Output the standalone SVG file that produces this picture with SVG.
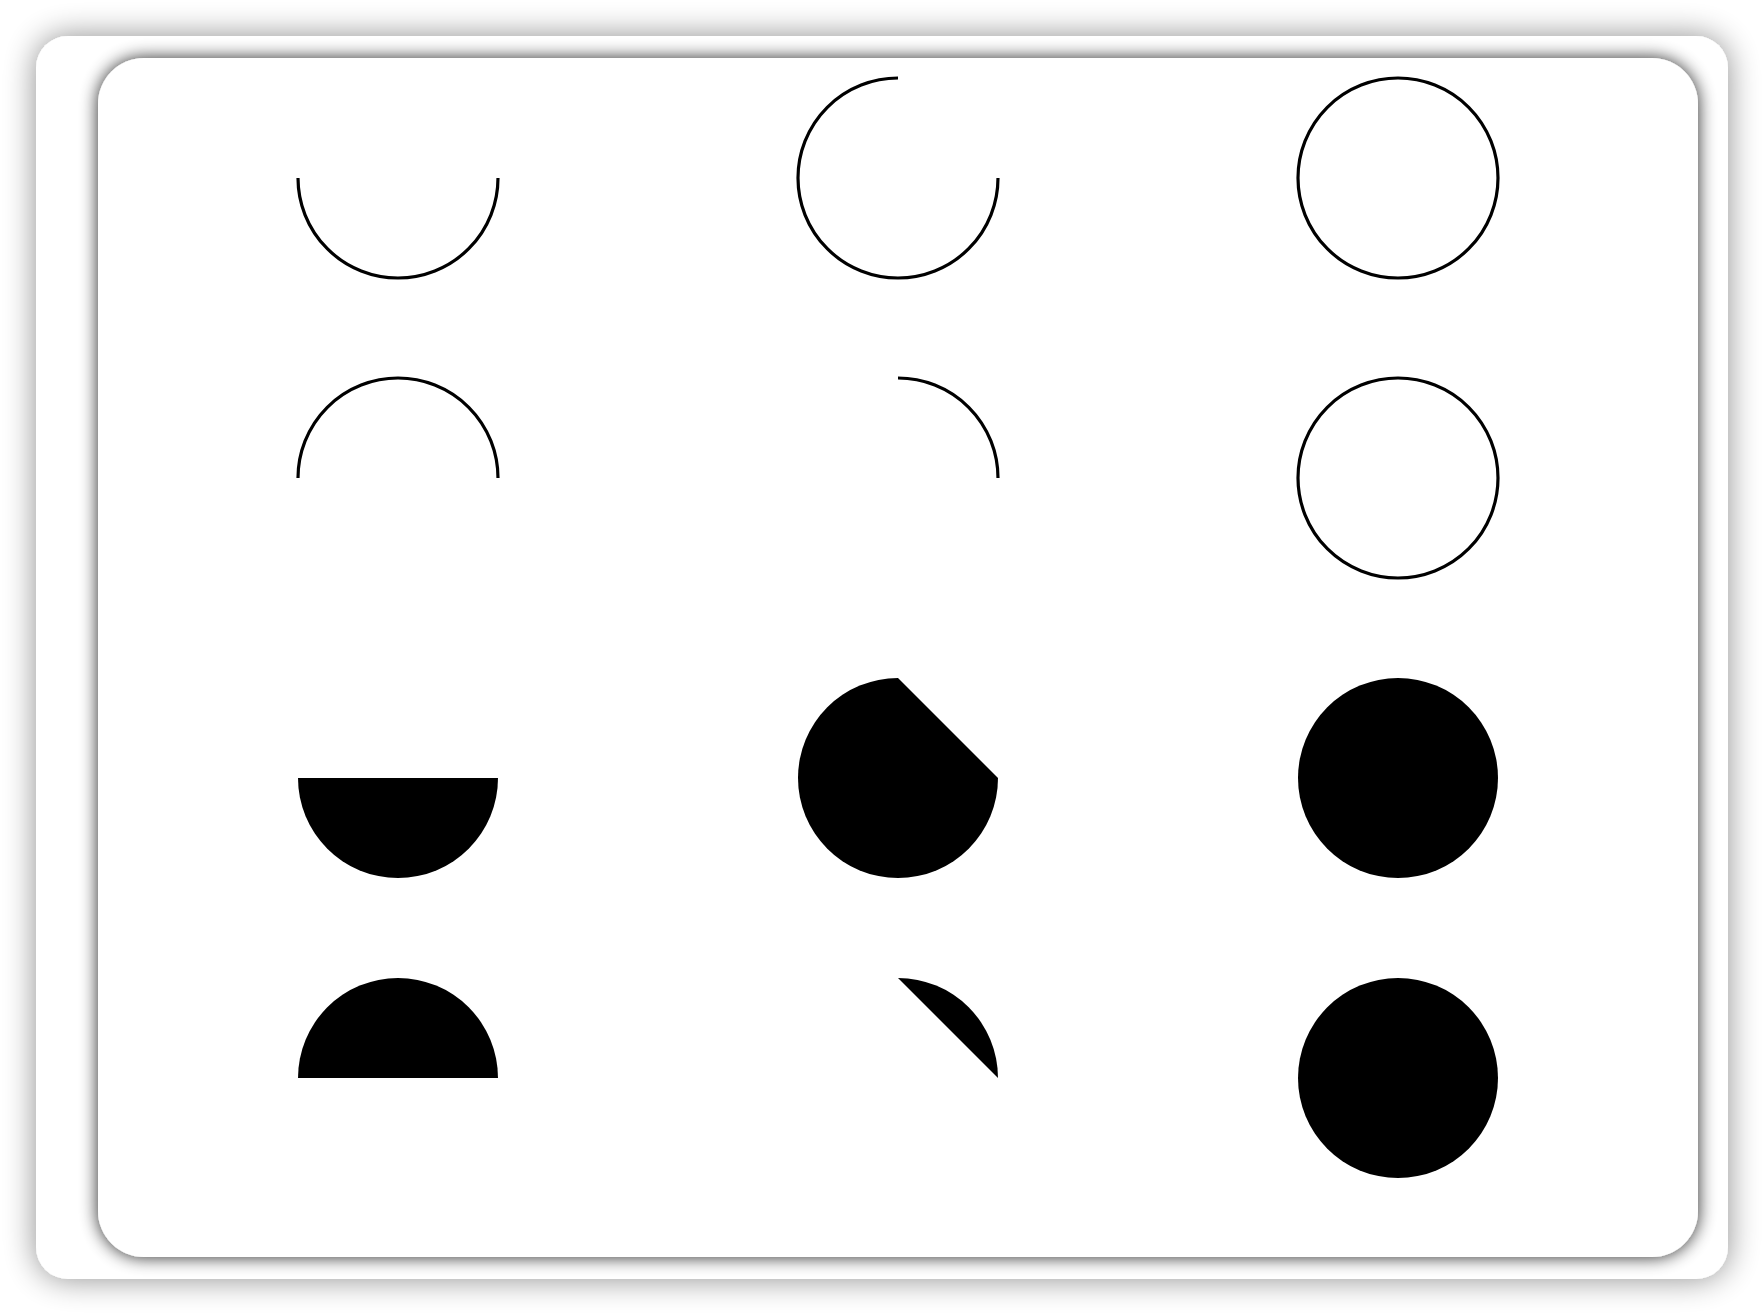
<svg xmlns="http://www.w3.org/2000/svg" width="1764" height="1316" viewBox="0 0 1764 1316">
<defs>
<filter id="shOuter" x="-10%" y="-10%" width="120%" height="120%">
<feGaussianBlur in="SourceAlpha" stdDeviation="16"/>
<feComponentTransfer><feFuncA type="linear" slope="0.45"/></feComponentTransfer>
<feMerge><feMergeNode/><feMergeNode in="SourceGraphic"/></feMerge>
</filter>
<filter id="shInner" x="-10%" y="-10%" width="120%" height="120%">
<feGaussianBlur in="SourceAlpha" stdDeviation="9"/>
<feComponentTransfer><feFuncA type="linear" slope="0.85"/></feComponentTransfer>
<feMerge><feMergeNode/><feMergeNode in="SourceGraphic"/></feMerge>
</filter>
</defs>
<style>
.arc{fill:none;stroke:#000;stroke-width:3.2}
.fill{fill:#000;stroke:none}
</style>
<rect x="0" y="0" width="1764" height="1316" fill="#ffffff"/>
<rect x="36" y="36" width="1692" height="1243" rx="32" fill="#ffffff" filter="url(#shOuter)"/>
<rect x="98" y="58" width="1600" height="1199" rx="46" fill="#ffffff" filter="url(#shInner)"/>
<g id="r1c1"><path class="arc" d="M298 178 A100 100 0 0 0 498 178"/></g>
<g id="r1c2"><path class="arc" d="M898 78 A100 100 0 1 0 998 178"/></g>
<g id="r1c3"><circle class="arc" cx="1398" cy="178" r="100"/></g>
<g id="r2c1"><path class="arc" d="M298 478 A100 100 0 0 1 498 478"/></g>
<g id="r2c2"><path class="arc" d="M898 378 A100 100 0 0 1 998 478"/></g>
<g id="r2c3"><circle class="arc" cx="1398" cy="478" r="100"/></g>
<g id="r3c1"><path class="fill" d="M298 778 A100 100 0 0 0 498 778 Z"/></g>
<g id="r3c2"><path class="fill" d="M898 678 A100 100 0 1 0 998 778 Z"/></g>
<g id="r3c3"><circle class="fill" cx="1398" cy="778" r="100"/></g>
<g id="r4c1"><path class="fill" d="M298 1078 A100 100 0 0 1 498 1078 Z"/></g>
<g id="r4c2"><path class="fill" d="M898 978 A100 100 0 0 1 998 1078 Z"/></g>
<g id="r4c3"><circle class="fill" cx="1398" cy="1078" r="100"/></g>
<g id="connectors"/>
</svg>
